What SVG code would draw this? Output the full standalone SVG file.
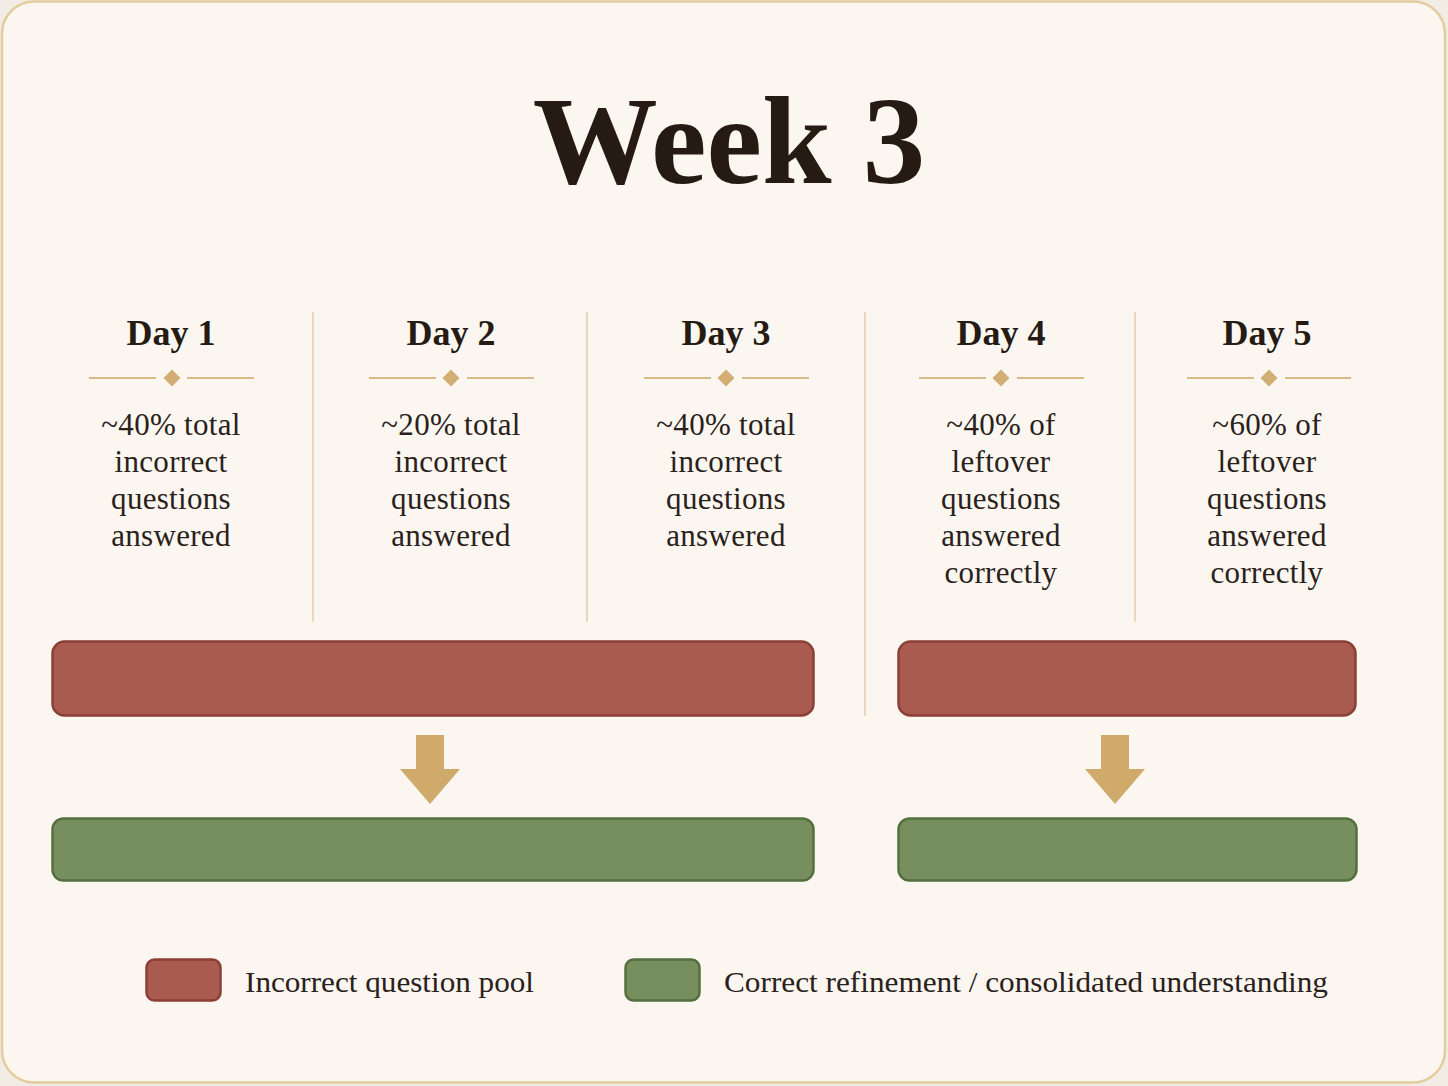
<svg xmlns="http://www.w3.org/2000/svg" width="1448" height="1086" viewBox="0 0 1448 1086">
<defs>
<style>
.title{font-family:"Liberation Serif","Times New Roman",serif;font-weight:bold;font-size:125px;fill:#261b12;text-anchor:middle}
.day{font-family:"Liberation Serif","Times New Roman",serif;font-weight:bold;font-size:36px;fill:#261b12;text-anchor:middle}
.body{font-family:"Liberation Serif","Times New Roman",serif;font-size:31px;fill:#2a211b;text-anchor:middle;letter-spacing:0.3px}
.leg{font-family:"Liberation Serif","Times New Roman",serif;font-size:30px;fill:#2a211b}
.sep{stroke:#ead6b8;stroke-width:2}
.rule{stroke:#d9bb8a;stroke-width:2}
.dia{fill:#d2ae74}
.red{fill:#a95b50;stroke:#8b3f36;stroke-width:2.5}
.green{fill:#778f5f;stroke:#55703f;stroke-width:2.5}
.arrow{fill:#d0aa6a}
</style>
</defs>
<rect x="0" y="0" width="1448" height="1086" fill="#f1ece4"/>
<rect x="2" y="1.5" width="1443" height="1081" rx="32" fill="#fbf6f0" stroke="#e4cc9f" stroke-width="2.5"/>
<text class="title" x="729" y="183">Week 3</text>

<g id="separators">
<line class="sep" x1="313" y1="312" x2="313" y2="622"/>
<line class="sep" x1="587" y1="312" x2="587" y2="622"/>
<line class="sep" x1="865" y1="312" x2="865" y2="716"/>
<line class="sep" x1="1135" y1="312" x2="1135" y2="622"/>
</g>

<g id="day1">
<text class="day" x="171" y="345">Day 1</text>
<line class="rule" x1="89" y1="378" x2="156" y2="378"/><line class="rule" x1="187" y1="378" x2="254" y2="378"/>
<rect class="dia" x="166" y="372" width="12" height="12" transform="rotate(45 172 378)"/>
<text class="body" x="171" y="435">~40% total</text>
<text class="body" x="171" y="472">incorrect</text>
<text class="body" x="171" y="509">questions</text>
<text class="body" x="171" y="546">answered</text>
</g>
<g id="day2">
<text class="day" x="451" y="345">Day 2</text>
<line class="rule" x1="369" y1="378" x2="436" y2="378"/><line class="rule" x1="467" y1="378" x2="534" y2="378"/>
<rect class="dia" x="445" y="372" width="12" height="12" transform="rotate(45 451 378)"/>
<text class="body" x="451" y="435">~20% total</text>
<text class="body" x="451" y="472">incorrect</text>
<text class="body" x="451" y="509">questions</text>
<text class="body" x="451" y="546">answered</text>
</g>
<g id="day3">
<text class="day" x="726" y="345">Day 3</text>
<line class="rule" x1="644" y1="378" x2="711" y2="378"/><line class="rule" x1="742" y1="378" x2="809" y2="378"/>
<rect class="dia" x="720" y="372" width="12" height="12" transform="rotate(45 726 378)"/>
<text class="body" x="726" y="435">~40% total</text>
<text class="body" x="726" y="472">incorrect</text>
<text class="body" x="726" y="509">questions</text>
<text class="body" x="726" y="546">answered</text>
</g>
<g id="day4">
<text class="day" x="1001" y="345">Day 4</text>
<line class="rule" x1="919" y1="378" x2="986" y2="378"/><line class="rule" x1="1017" y1="378" x2="1084" y2="378"/>
<rect class="dia" x="995" y="372" width="12" height="12" transform="rotate(45 1001 378)"/>
<text class="body" x="1001" y="435">~40% of</text>
<text class="body" x="1001" y="472">leftover</text>
<text class="body" x="1001" y="509">questions</text>
<text class="body" x="1001" y="546">answered</text>
<text class="body" x="1001" y="583">correctly</text>
</g>
<g id="day5">
<text class="day" x="1267" y="345">Day 5</text>
<line class="rule" x1="1187" y1="378" x2="1254" y2="378"/><line class="rule" x1="1285" y1="378" x2="1351" y2="378"/>
<rect class="dia" x="1263" y="372" width="12" height="12" transform="rotate(45 1269 378)"/>
<text class="body" x="1267" y="435">~60% of</text>
<text class="body" x="1267" y="472">leftover</text>
<text class="body" x="1267" y="509">questions</text>
<text class="body" x="1267" y="546">answered</text>
<text class="body" x="1267" y="583">correctly</text>
</g>

<g id="pool-a"><rect class="red" x="52.5" y="641.5" width="761" height="74" rx="12"/></g>
<g id="pool-b"><rect class="red" x="898.5" y="641.5" width="457" height="74" rx="12"/></g>
<g id="refine-a"><rect class="green" x="52.5" y="818.5" width="761" height="62" rx="11"/></g>
<g id="refine-b"><rect class="green" x="898.5" y="818.5" width="458" height="62" rx="11"/></g>

<g id="connectors">
<path class="arrow" d="M416 735 H444 V769 H460 L430 804 L400 769 H416 Z"/>
<path class="arrow" d="M1101 735 H1129 V769 H1145 L1115 804 L1085 769 H1101 Z"/>
</g>

<g id="legend">
<rect class="red" x="146.5" y="959.5" width="74" height="41" rx="8"/>
<text class="leg" x="245" y="992" textLength="289" lengthAdjust="spacingAndGlyphs">Incorrect question pool</text>
<rect class="green" x="625.5" y="959.5" width="74" height="41" rx="8"/>
<text class="leg" x="724" y="992" textLength="604" lengthAdjust="spacingAndGlyphs">Correct refinement / consolidated understanding</text>
</g>
</svg>
